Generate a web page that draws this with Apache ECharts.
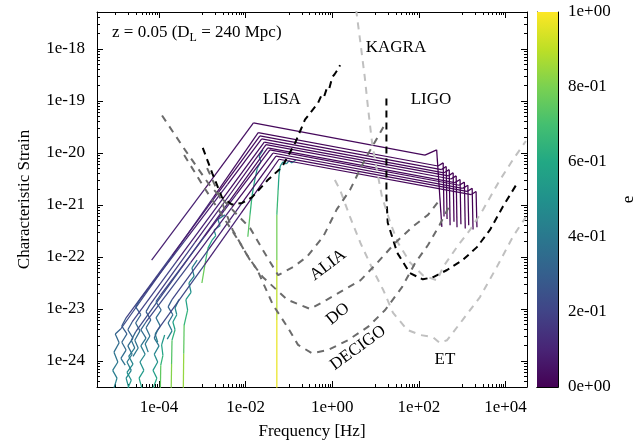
<!DOCTYPE html>
<html>
<head>
<meta charset="utf-8">
<script src="https://cdn.jsdelivr.net/npm/echarts@6/dist/echarts.min.js"></script>
<style>
html, body { margin: 0; padding: 0; background: #fff; }
#chart { width: 634px; height: 443px; }
</style>
</head>
<body>
<div id="chart"></div>
<script>
var chart = echarts.init(document.getElementById('chart'));

// axis ranges (Hz, characteristic strain)
var xMin = 3.7e-6, xMax = 3.13e4;
var yMin = 3.16e-25, yMax = 5.15e-18;

// tick values
var xMajor = [1e-4, 1e-2, 1, 1e2, 1e4];
var yMajor = [1e-24, 1e-23, 1e-22, 1e-21, 1e-20, 1e-19, 1e-18];
var eTicks = [0, 0.2, 0.4, 0.6, 0.8, 1];

// detector curves: [log10 f, log10 hc]
var lisa = [[-2.99,-19.90],[-2.77,-20.39],[-2.55,-20.85],[-2.32,-20.99],[-2.08,-20.96],[-1.85,-20.85],[-1.49,-20.52],[-1.16,-20.27],[-0.86,-19.81],[-0.63,-19.36],[-0.33,-19.04],[-0.25,-18.89],[-0.19,-18.92],[-0.12,-18.74],[-0.07,-18.76],[0.00,-18.54],[0.05,-18.49],[0.08,-18.51],[0.13,-18.39],[0.18,-18.31]];
var ligo = [[1.25,-18.95],[1.25,-20.85],[1.28,-21.34],[1.50,-21.92],[1.79,-22.31],[2.09,-22.43],[2.32,-22.39],[2.65,-22.25],[3.01,-22.06],[3.34,-21.81],[3.64,-21.48],[3.94,-21.03],[4.27,-20.58]];
var kagra = [[0.55,-17.24],[0.65,-17.88],[0.75,-18.54],[0.83,-19.17],[0.92,-19.81],[1.03,-20.33],[1.15,-20.85],[1.34,-21.34],[1.52,-21.73],[1.79,-22.10],[2.09,-22.35],[2.42,-22.45],[2.56,-22.19],[2.91,-21.77],[3.18,-21.48],[3.48,-21.09],[3.87,-20.52],[4.17,-20.13],[4.47,-19.77]];
var et = [[0.06,-20.52],[0.18,-20.71],[0.41,-21.23],[0.65,-21.73],[0.94,-22.25],[1.18,-22.64],[1.40,-23.07],[1.73,-23.40],[2.03,-23.50],[2.32,-23.54],[2.48,-23.65],[2.65,-23.60],[3.01,-23.21],[3.41,-22.77],[3.80,-22.19],[4.17,-21.61],[4.47,-21.23]];
var alia = [[-3.93,-19.28],[-3.40,-19.94],[-2.83,-20.62],[-2.24,-21.15],[-1.90,-21.44],[-1.60,-21.87],[-1.25,-22.35],[-0.90,-22.19],[-0.59,-22.00],[-0.21,-21.61],[0.10,-21.09],[0.41,-20.71],[0.75,-20.13],[1.18,-19.50]];
var decigoOpt = [[-3.42,-20.04],[-2.96,-20.66],[-2.55,-21.19],[-2.13,-21.73],[-1.90,-22.06],[-1.60,-22.39],[-1.04,-22.82],[-0.51,-23.00],[-0.12,-22.82],[0.25,-22.64],[0.65,-22.45],[1.03,-22.12],[1.45,-21.73],[1.85,-21.42],[2.21,-21.19],[2.48,-20.90]];
var decigo = [[-2.89,-20.29],[-2.66,-20.71],[-2.30,-21.48],[-1.97,-21.96],[-1.73,-22.25],[-1.37,-22.92],[-1.04,-23.34],[-0.79,-23.69],[-0.47,-23.85],[-0.10,-23.79],[0.36,-23.60],[0.83,-23.34],[1.22,-23.02],[1.61,-22.58],[1.91,-22.12],[2.21,-21.77],[2.48,-21.38],[2.72,-20.99]];

// source tracks: [log10 f, log10 hc, e]
var trackH1 = [[-1.28,-24.60,0.99],[-1.28,-23.21,0.95],[-1.28,-22.06,0.85],[-1.28,-21.19,0.72],[-1.25,-20.71,0.62],[-1.23,-20.42,0.55],[-1.20,-20.25,0.50],[-1.14,-20.17,0.48],[-1.06,-20.21,0.47],[-1.00,-20.15,0.46],[-0.93,-20.19,0.45],[-0.84,-20.13,0.44]];
var trackH2 = [[-1.95,-21.61,0.78],[-1.90,-21.19,0.70],[-1.85,-20.81,0.62],[-1.79,-20.52,0.55],[-1.73,-20.29,0.50],[-1.65,-20.17,0.46],[-1.69,-20.06,0.43],[-1.60,-19.94,0.40]];
var trackH3 = [[-3.01,-22.50,0.82],[-2.93,-22.10,0.72],[-2.87,-21.83,0.64],[-2.77,-21.67,0.56],[-2.69,-21.59,0.52],[-2.73,-21.48,0.48],[-2.59,-21.40,0.45],[-2.64,-21.28,0.42],[-2.48,-21.19,0.40]];
var trackH4 = [[-3.44,-24.60,0.88],[-3.43,-23.86,0.80],[-3.42,-23.31,0.70],[-3.34,-23.02,0.60],[-3.38,-22.82,0.55],[-3.26,-22.68,0.50],[-3.31,-22.50,0.47],[-3.19,-22.37,0.44],[-3.24,-22.21,0.42],[-3.12,-22.06,0.40]];
var trackH5 = [[-3.72,-24.60,0.85],[-3.71,-24.06,0.78],[-3.70,-23.60,0.68],[-3.63,-23.40,0.60],[-3.68,-23.25,0.55],[-3.59,-23.11,0.50],[-3.63,-22.98,0.46],[-3.54,-22.82,0.42]];
var trackH6 = [[-3.97,-24.60,0.80],[-3.96,-24.08,0.70],[-3.91,-23.89,0.60],[-3.94,-23.69,0.55],[-3.87,-23.50,0.50]];
var trackB1 = [[-5.07,-24.60,0.45],[-4.97,-24.33,0.43],[-5.07,-24.18,0.41],[-4.95,-24.02,0.39],[-5.04,-23.83,0.37],[-4.92,-23.65,0.34],[-5.01,-23.48,0.32],[-4.88,-23.38,0.30],[-3.80,-22.11,0.15],[-2.74,-20.85,0.06],[-1.71,-19.61,0.02],[2.44,-20.25,0.01],[2.56,-20.19,0],[2.58,-21.22,0]];
var trackB2 = [[-4.78,-24.08,0.38],[-4.88,-23.95,0.36],[-4.76,-23.79,0.34],[-4.86,-23.64,0.32],[-4.74,-23.48,0.30],[-4.86,-23.33,0.28],[-4.76,-23.17,0.26],[-3.70,-21.97,0.13],[-2.64,-20.77,0.05],[-1.67,-19.67,0.02],[2.52,-20.32,0.01],[2.63,-20.26,0],[2.65,-21.27,0]];
var trackB3 = [[-4.60,-23.91,0.40],[-4.48,-23.75,0.38],[-4.56,-23.60,0.36],[-4.44,-23.42,0.34],[-4.54,-23.27,0.32],[-4.42,-23.11,0.30],[-4.54,-22.96,0.28],[-4.44,-22.82,0.25],[-3.38,-21.66,0.12],[-2.42,-20.61,0.05],[-1.63,-19.73,0.02],[2.58,-20.38,0.01],[2.70,-20.32,0],[2.72,-21.39,0]];
var trackB4 = [[-4.67,-24.60,0.50],[-4.76,-24.33,0.47],[-4.64,-24.18,0.44],[-4.74,-24.02,0.41],[-4.62,-23.87,0.38],[-4.72,-23.71,0.35],[-4.60,-23.56,0.32],[-4.72,-23.40,0.30],[-4.62,-23.25,0.27],[-3.59,-22.08,0.13],[-2.53,-20.88,0.05],[-1.57,-19.79,0.02],[2.68,-20.44,0.01],[2.79,-20.38,0],[2.81,-21.32,0]];
var trackB5 = [[-4.25,-23.83,0.42],[-4.32,-23.67,0.40],[-4.21,-23.52,0.37],[-4.30,-23.36,0.34],[-4.19,-23.21,0.31],[-4.30,-23.05,0.28],[-4.21,-22.92,0.25],[-3.17,-21.72,0.12],[-2.32,-20.75,0.05],[-1.53,-19.84,0.02],[2.74,-20.50,0.01],[2.86,-20.44,0],[2.88,-21.43,0]];
var trackB6 = [[-4.76,-24.60,0.55],[-4.64,-24.37,0.52],[-4.74,-24.22,0.49],[-4.60,-24.06,0.46],[-4.70,-23.91,0.42],[-4.56,-23.75,0.38],[-4.64,-23.60,0.34],[-4.54,-23.44,0.30],[-3.49,-22.22,0.15],[-2.42,-20.98,0.06],[-1.49,-19.90,0.02],[2.83,-20.57,0.01],[2.95,-20.51,0],[2.97,-21.37,0]];
var trackB7 = [[-4.03,-23.64,0.45],[-4.09,-23.48,0.42],[-3.97,-23.33,0.39],[-4.07,-23.17,0.36],[-3.95,-23.02,0.33],[-4.07,-22.86,0.30],[-3.97,-22.74,0.28],[-2.95,-21.61,0.13],[-2.21,-20.79,0.05],[-1.44,-19.94,0.02],[2.93,-20.62,0.01],[3.05,-20.56,0],[3.07,-21.45,0]];
var trackB8 = [[-4.37,-24.60,0.60],[-4.46,-24.33,0.56],[-4.35,-24.18,0.52],[-4.44,-24.02,0.48],[-4.32,-23.87,0.44],[-4.42,-23.71,0.40],[-4.30,-23.56,0.36],[-4.42,-23.40,0.33],[-4.30,-23.25,0.30],[-3.27,-22.11,0.14],[-2.32,-21.05,0.05],[-1.37,-20.00,0.02],[3.01,-20.68,0.01],[3.13,-20.62,0],[3.15,-21.39,0]];
var trackB9 = [[-3.81,-23.58,0.45],[-3.70,-23.42,0.41],[-3.79,-23.27,0.37],[-3.68,-23.11,0.34],[-3.79,-22.96,0.31],[-3.70,-22.82,0.28],[-2.85,-21.85,0.13],[-2.10,-20.98,0.05],[-1.30,-20.06,0.02],[3.11,-20.74,0.01],[3.23,-20.68,0],[3.25,-21.47,0]];
var trackB10 = [[-4.17,-24.60,0.62],[-4.05,-24.33,0.58],[-4.14,-24.18,0.54],[-4.03,-24.02,0.50],[-4.11,-23.87,0.46],[-4.00,-23.71,0.42],[-4.11,-23.56,0.36],[-4.03,-23.40,0.30],[-2.95,-22.15,0.14],[-2.10,-21.15,0.05],[-1.23,-20.12,0.02],[3.21,-20.80,0.01],[3.32,-20.74,0],[3.34,-21.43,0]];
var trackTop = [[-4.17,-22.06,0.12],[-2.95,-20.70,0.06],[-1.82,-19.42,0.03],[2.14,-20.04,0.01],[2.41,-19.94,0],[2.53,-21.42,0]];

var tracks = [trackH1, trackH2, trackH3, trackH4, trackH5, trackH6,
  trackB1, trackB2, trackB3, trackB4, trackB5, trackB6, trackB7, trackB8, trackB9, trackB10, trackTop];

var viridis = ['#440154','#482475','#414487','#355f8d','#2a788e','#21918c','#22a884','#44bf70','#7ad151','#bddf26','#fde725'];

// minor ticks, gnuplot style: x has ten steps inside each two-decade span, y has 2..9 per decade
var xMinor = [];
[1e-6, 1e-4, 1e-2, 1, 1e2, 1e4].forEach(function (m) {
  for (var k = 1; k <= 9; k++) xMinor.push(k * m * 10);
});
xMinor = xMinor.filter(function (v) { return v > xMin && v < xMax; });
var yMinor = [];
for (var n = -25; n <= -18; n++) {
  for (var k = 2; k <= 9; k++) yMinor.push(k * Math.pow(10, n));
}
yMinor = yMinor.filter(function (v) { return v > yMin && v < yMax; });

function hexRgb(h) {
  return [parseInt(h.substr(1, 2), 16), parseInt(h.substr(3, 2), 16), parseInt(h.substr(5, 2), 16)];
}
function viridisAt(e) {
  e = Math.max(0, Math.min(1, e));
  var p = e * (viridis.length - 1);
  var i = Math.min(Math.floor(p), viridis.length - 2);
  var t = p - i;
  var a = hexRgb(viridis[i]), b = hexRgb(viridis[i + 1]);
  return 'rgb(' + Math.round(a[0] + (b[0] - a[0]) * t) + ',' + Math.round(a[1] + (b[1] - a[1]) * t) + ',' + Math.round(a[2] + (b[2] - a[2]) * t) + ')';
}

function toXY(arr) {
  return arr.map(function (p) { return [Math.pow(10, p[0]), Math.pow(10, p[1])]; });
}

// one short line series per track segment, coloured by e
var trackSeries = [];
tracks.forEach(function (t) {
  for (var i = 0; i < t.length - 1; i++) {
    var a = t[i], b = t[i + 1];
    trackSeries.push({
      type: 'line', xAxisIndex: 0, yAxisIndex: 0, data: toXY([a, b]),
      showSymbol: false, symbol: 'none', silent: true, clip: true, z: 3,
      lineStyle: { width: 1.25, color: viridisAt((a[2] + b[2]) / 2) }
    });
  }
});

function pad2(n) { return n < 10 ? '0' + n : '' + n; }
function logFmt(v) {
  var r = Math.round(Math.log10(v));
  return '1e' + (r < 0 ? '-' : '+') + pad2(Math.abs(r));
}
function eFmt(v) {
  if (Math.abs(v) < 1e-9) return '0e+00';
  var ex = Math.floor(Math.log10(v) + 1e-9);
  var m = Math.round(v / Math.pow(10, ex));
  return m + 'e' + (ex < 0 ? '-' : '+') + pad2(Math.abs(ex));
}

var serif = 'Liberation Serif';
var fs = 17;
var txt = { fontFamily: serif, fontSize: fs, color: '#000' };

function logAxis(kind, pos, ticks, len, withLine, showLabel, extra) {
  var ax = {
    type: 'log', gridIndex: 0, position: pos, offset: 0,
    min: kind === 'x' ? xMin : yMin, max: kind === 'x' ? xMax : yMax,
    axisLine: { show: withLine, onZero: false, lineStyle: { color: '#000', width: 1 } },
    axisTick: { show: true, inside: true, length: len, customValues: ticks, lineStyle: { color: '#000' } },
    minorTick: { show: false },
    splitLine: { show: false },
    axisLabel: showLabel
      ? { customValues: ticks, formatter: logFmt, margin: 12, fontFamily: serif, fontSize: fs, color: '#000' }
      : { show: false }
  };
  return Object.assign(ax, extra || {});
}

function det(data, color, dash) {
  return {
    type: 'line', xAxisIndex: 0, yAxisIndex: 0, data: toXY(data), showSymbol: false, symbol: 'none',
    silent: true, z: 5, clip: true,
    lineStyle: { color: color, width: 2, type: dash }
  };
}

var ctx = document.createElement('canvas').getContext('2d');
ctx.font = fs + 'px "' + serif + '"';
var zA = 'z = 0.05 (D', zB = 'L', zC = ' = 240 Mpc)';
var wA = ctx.measureText(zA).width;
ctx.font = '12px "' + serif + '"';
var wB = ctx.measureText(zB).width;

function label(text, x, y, rot) {
  return {
    type: 'text', x: x, y: y, rotation: (rot || 0) * Math.PI / 180, z: 20,
    style: { text: text, font: fs + 'px "' + serif + '"', fill: '#000', align: 'center', verticalAlign: 'middle' }
  };
}

var cbAxisLine = { show: true, lineStyle: { color: '#000' } };

var option = {
  animation: false,
  backgroundColor: '#fff',
  grid: [
    { left: 97, top: 12, width: 430, height: 375, containLabel: false, outerBoundsMode: 'none' },
    { left: 537, top: 12, width: 21, height: 375, containLabel: false, outerBoundsMode: 'none' }
  ],
  xAxis: [
    logAxis('x', 'bottom', xMajor, 6, true, true, { name: 'Frequency [Hz]', nameLocation: 'middle', nameGap: 36, nameTextStyle: txt }),
    logAxis('x', 'top', xMajor, 6, true, false),
    logAxis('x', 'bottom', xMinor, 3, false, false),
    logAxis('x', 'top', xMinor, 3, false, false),
    { type: 'category', gridIndex: 1, data: ['e'], position: 'bottom', axisLine: cbAxisLine, axisTick: { show: false }, axisLabel: { show: false } },
    { type: 'category', gridIndex: 1, data: ['e'], position: 'top', axisLine: cbAxisLine, axisTick: { show: false }, axisLabel: { show: false } }
  ],
  yAxis: [
    logAxis('y', 'left', yMajor, 6, true, true, { name: 'Characteristic Strain', nameLocation: 'middle', nameGap: 64, nameRotate: 90, nameTextStyle: txt }),
    logAxis('y', 'right', yMajor, 6, true, false),
    logAxis('y', 'left', yMinor, 3, false, false),
    logAxis('y', 'right', yMinor, 3, false, false),
    {
      type: 'value', gridIndex: 1, position: 'right', min: 0, max: 1, interval: 0.2,
      axisLine: cbAxisLine,
      axisTick: { show: true, inside: true, length: 5, lineStyle: { color: '#000' } },
      splitLine: { show: false },
      axisLabel: { formatter: eFmt, margin: 10, fontFamily: serif, fontSize: fs, color: '#000' },
      name: 'e', nameLocation: 'middle', nameGap: 62, nameRotate: 90, nameTextStyle: txt
    },
    {
      type: 'value', gridIndex: 1, position: 'left', min: 0, max: 1, interval: 0.2,
      axisLine: cbAxisLine,
      axisTick: { show: true, inside: true, length: 5, lineStyle: { color: '#000' } },
      splitLine: { show: false }, axisLabel: { show: false }
    }
  ],
  series: trackSeries.concat([
    det(lisa, '#000', [7, 5]),
    det(ligo, '#000', [7, 5]),
    det(kagra, '#c0c0c0', [7, 6]),
    det(et, '#c0c0c0', [7, 6]),
    det(alia, '#6b6b6b', [7, 6]),
    det(decigoOpt, '#6b6b6b', [7, 6]),
    det(decigo, '#6b6b6b', [7, 6]),
    {
      type: 'bar', xAxisIndex: 4, yAxisIndex: 4, data: [eTicks[eTicks.length - 1]], barWidth: '100%', silent: true,
      itemStyle: {
        color: new echarts.graphic.LinearGradient(0, 0, 0, 1, viridis.slice().reverse().map(function (c, i) {
          return { offset: i / (viridis.length - 1), color: c };
        }))
      }
    }
  ]),
  graphic: [
    { type: 'text', x: 112, y: 33, z: 20, style: { text: zA, font: fs + 'px "' + serif + '"', fill: '#000', verticalAlign: 'middle' } },
    { type: 'text', x: 112 + wA, y: 38, z: 20, style: { text: zB, font: '12px "' + serif + '"', fill: '#000', verticalAlign: 'middle' } },
    { type: 'text', x: 112 + wA + wB, y: 33, z: 20, style: { text: zC, font: fs + 'px "' + serif + '"', fill: '#000', verticalAlign: 'middle' } },
    label('KAGRA', 396, 48),
    label('LISA', 282, 100),
    label('LIGO', 431, 100),
    label('ALIA', 328, 265, 37),
    label('DO', 338, 314, 39),
    label('DECIGO', 358, 348, 36),
    label('ET', 445, 360)
  ]
};
chart.setOption(option);
</script>
</body>
</html>
